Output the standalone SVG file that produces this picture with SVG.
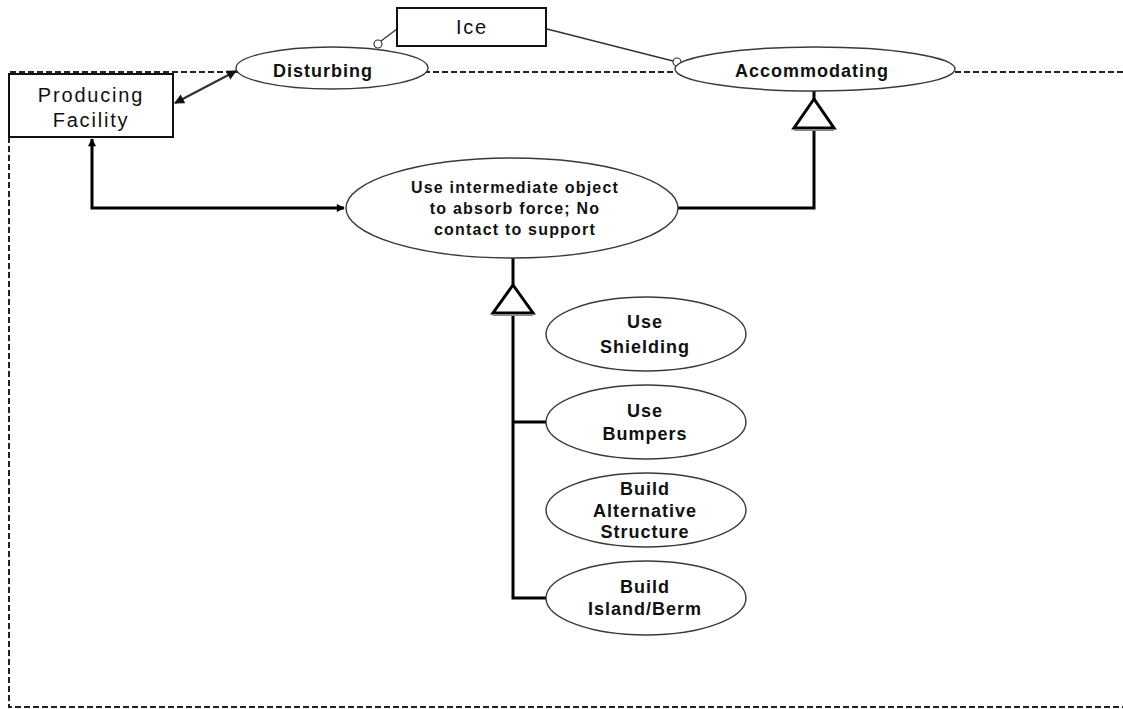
<svg xmlns="http://www.w3.org/2000/svg" width="1123" height="709" viewBox="0 0 1123 709">
  <defs>
    <style>
      .bg { fill: #ffffff; }
      .boundary { fill: none; stroke: #222; stroke-width: 2; stroke-dasharray: 6 3; }
      .box { fill: #ffffff; stroke: #111; stroke-width: 2; }
      .uc { fill: #ffffff; stroke: #3a3a3a; stroke-width: 1.4; }
      .thick { fill: none; stroke: #000; stroke-width: 3; }
      .assoc { fill: none; stroke: #333; stroke-width: 2.2; }
      .thin { fill: none; stroke: #333; stroke-width: 1.3; }
      .port { fill: #ffffff; stroke: #333; stroke-width: 1.2; }
      .gen { fill: #ffffff; stroke: #000; stroke-width: 3; stroke-linejoin: miter; }
      .genbase { stroke: #888; stroke-width: 2; }
      .t-box { font-family: "Liberation Sans", Arial, sans-serif; font-size: 20px; letter-spacing: 1.8px; fill: #111; text-anchor: middle; }
      .t-uc { font-family: "Liberation Sans", Arial, sans-serif; font-size: 18px; font-weight: bold; letter-spacing: 1px; fill: #111; text-anchor: middle; }
      .t-mid { font-family: "Liberation Sans", Arial, sans-serif; font-size: 16px; font-weight: bold; letter-spacing: 1.2px; fill: #111; text-anchor: middle; }
    </style>
    <!-- filled arrowhead for the thick navigable link -->
    <marker id="arrowFill" viewBox="0 0 10 10" refX="9" refY="5" markerWidth="9" markerHeight="8" markerUnits="userSpaceOnUse" orient="auto-start-reverse">
      <path d="M0,0 L10,5 L0,10 Z" fill="#000"/>
    </marker>
    <!-- chunky arrowhead for the actor association -->
    <marker id="arrowSmall" viewBox="0 0 10 10" refX="9" refY="5" markerWidth="11" markerHeight="10" markerUnits="userSpaceOnUse" orient="auto-start-reverse">
      <path d="M0,0 L10,5 L0,10 Z" fill="#111"/>
    </marker>
  </defs>

  <rect class="bg" x="0" y="0" width="1123" height="709"/>

  <!-- system boundary -->
  <path class="boundary" d="M1123,72 H9 V707 H1123"/>

  <g id="connectors">
    <!-- actor to disturbing use case -->
    <line class="assoc" x1="175" y1="103" x2="236" y2="71" marker-start="url(#arrowSmall)" marker-end="url(#arrowSmall)"/>
    <!-- Ice links with open ports -->
    <line class="thin" x1="397" y1="29" x2="381" y2="41"/>
    <circle class="port" cx="378" cy="44" r="4"/>
    <line class="thin" x1="547" y1="29" x2="673" y2="61"/>
    <circle class="port" cx="677" cy="62" r="4"/>
    <!-- producing facility to central use case -->
    <path class="thick" d="M92,139 V208 H344" marker-start="url(#arrowFill)" marker-end="url(#arrowFill)"/>
    <!-- central generalisation up to Accommodating -->
    <path class="thick" d="M678,208 H814 V130"/>
    <line class="thick" x1="814" y1="91" x2="814" y2="99"/>
    <polygon class="gen" points="814,99 794,128 834,128"/>
    <line class="genbase" x1="794" y1="130" x2="834" y2="130"/>
    <!-- children generalisation to central use case -->
    <line class="thick" x1="513" y1="258" x2="513" y2="285"/>
    <polygon class="gen" points="513,285 493,313 533,313"/>
    <line class="genbase" x1="493" y1="315" x2="533" y2="315"/>
    <path class="thick" d="M513,316 V598 H547"/>
    <line class="thick" x1="513" y1="422" x2="547" y2="422"/>
  </g>

  <g id="producing-facility">
    <rect class="box" x="9" y="74" width="164" height="63"/>
    <text class="t-box" x="91" y="102">Producing</text>
    <text class="t-box" x="91" y="127">Facility</text>
  </g>

  <g id="ice">
    <rect class="box" x="397" y="8" width="149" height="38"/>
    <text class="t-box" x="472" y="34">Ice</text>
  </g>

  <g id="disturbing">
    <ellipse class="uc" cx="332" cy="68" rx="96" ry="21"/>
    <text class="t-uc" x="323" y="77">Disturbing</text>
  </g>

  <g id="accommodating">
    <ellipse class="uc" cx="815" cy="69" rx="140" ry="22"/>
    <text class="t-uc" x="812" y="77">Accommodating</text>
  </g>

  <g id="intermediate-object">
    <ellipse class="uc" cx="512" cy="208" rx="166" ry="50"/>
    <text class="t-mid" x="515" y="193">Use intermediate object</text>
    <text class="t-mid" x="515" y="214">to absorb force; No</text>
    <text class="t-mid" x="515" y="235">contact to support</text>
  </g>

  <g id="use-shielding">
    <ellipse class="uc" cx="646" cy="334" rx="100" ry="37"/>
    <text class="t-uc" x="645" y="328">Use</text>
    <text class="t-uc" x="645" y="353">Shielding</text>
  </g>

  <g id="use-bumpers">
    <ellipse class="uc" cx="646" cy="422" rx="100" ry="37"/>
    <text class="t-uc" x="645" y="417">Use</text>
    <text class="t-uc" x="645" y="440">Bumpers</text>
  </g>

  <g id="build-alternative-structure">
    <ellipse class="uc" cx="646" cy="510" rx="100" ry="37"/>
    <text class="t-uc" x="645" y="495">Build</text>
    <text class="t-uc" x="645" y="517">Alternative</text>
    <text class="t-uc" x="645" y="538">Structure</text>
  </g>

  <g id="build-island-berm">
    <ellipse class="uc" cx="646" cy="598" rx="100" ry="37"/>
    <text class="t-uc" x="645" y="593">Build</text>
    <text class="t-uc" x="645" y="615">Island/Berm</text>
  </g>
</svg>
